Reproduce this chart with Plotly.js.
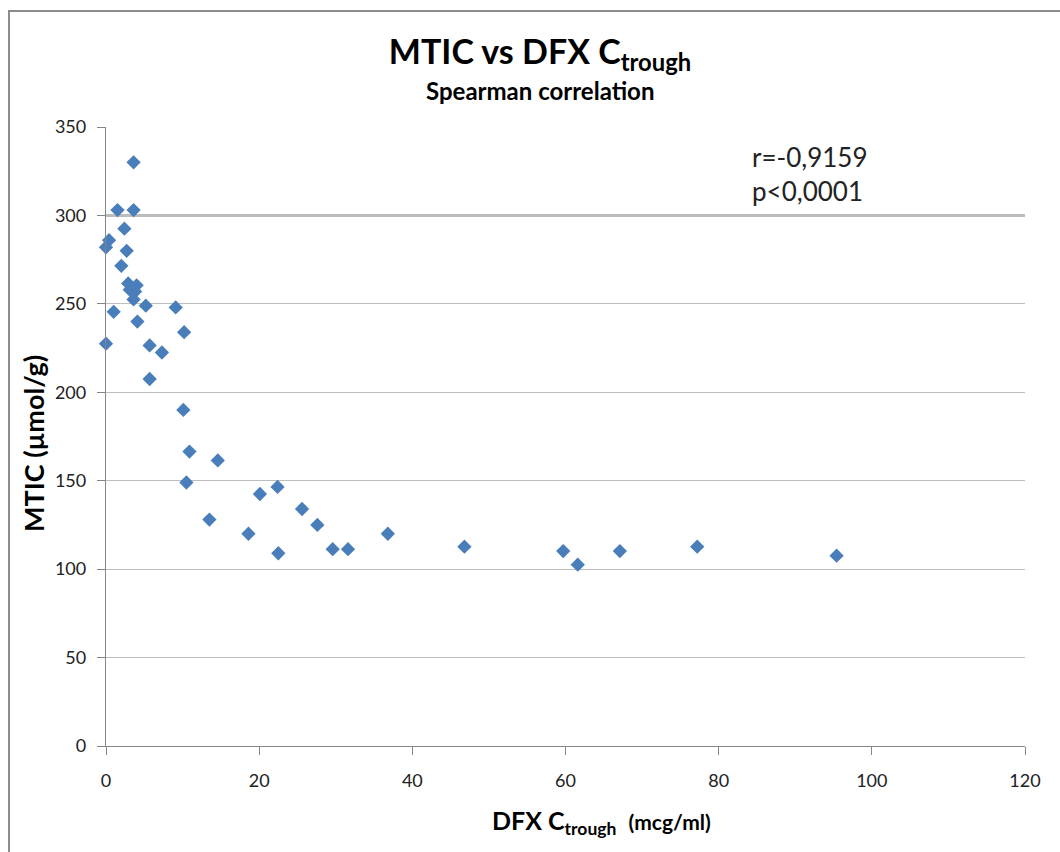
<!DOCTYPE html>
<html>
<head>
<meta charset="utf-8">
<script src="https://cdn.plot.ly/plotly-3.0.1.min.js"></script>
<style>
  html, body { margin: 0; padding: 0; background: #ffffff; }
  #wrap { position: relative; width: 1060px; height: 852px; overflow: hidden; }
  #chart { position: absolute; left: 0; top: 0; width: 1060px; height: 852px; }
  #frame { position: absolute; left: 8px; top: 10px; width: 1100px; height: 900px;
           border-top: 2px solid #8c8c8c; border-left: 2px solid #8c8c8c;
           pointer-events: none; z-index: 5; }
</style>
</head>
<body>
<div id="wrap">
  <div id="chart"></div>
  <div id="frame"></div>
</div>
<script>
// DFX C-trough (mcg/ml)
const dfxCtrough = [
  3.6, 1.5, 3.6, 2.4, 0.4, 0.0, 2.7, 2.0, 2.9, 4.0,
  3.1, 3.8, 3.6, 5.2, 9.1, 1.0, 4.1, 10.2, 0.0, 5.7,
  7.3, 5.7, 10.1, 10.9, 14.6, 10.5, 22.4, 20.1, 25.6, 13.5,
  27.6, 18.6, 36.8, 29.6, 31.6, 22.5, 46.8, 59.7, 61.6, 67.1,
  77.2, 95.4
];
// MTIC (µmol/g)
const mtic = [
  330, 303, 303, 292.5, 286, 282, 280, 271.5, 261.5, 260.5,
  258, 257, 252.5, 249, 248, 245.5, 240, 234, 227.5, 226.5,
  222.5, 207.5, 190, 166.5, 161.5, 149, 146.5, 142.5, 134, 128,
  125, 120, 120, 111.3, 111.3, 109, 112.7, 110.2, 102.5, 110.2,
  112.7, 107.6
];
const xTicks = [0, 20, 40, 60, 80, 100, 120];
const yTicks = [0, 50, 100, 150, 200, 250, 300, 350];
const highlightedGrid = 300;

const chartTitle = "MTIC vs DFX C<sub>trough</sub>";
const chartSubtitle = "Spearman correlation";
const xTitle = "DFX C<sub>trough</sub>  <span style='font-size:21px'>(mcg/ml)</span>";
const yTitle = "MTIC (\u00b5mol/g)";
const statsText = "r=-0,9159<br>p<0,0001";

const FONT = "Lato, 'Open Sans', 'Liberation Sans', sans-serif";

const trace = {
  type: "scatter",
  mode: "markers",
  x: dfxCtrough,
  y: mtic,
  cliponaxis: false,
  marker: { symbol: "diamond", size: 11, color: "#4a7ebb", line: { width: 0 } },
  hoverinfo: "x+y",
  showlegend: false
};

const layout = {
  width: 1060,
  height: 852,
  paper_bgcolor: "#ffffff",
  plot_bgcolor: "#ffffff",
  margin: { l: 106, r: 35, t: 127, b: 106, pad: 0 },
  font: { family: FONT, color: "#222222" },
  title: {
    text: chartTitle,
    font: { family: FONT, size: 34, color: "#000000", weight: "bold" },
    xref: "container", x: 540 / 1060, xanchor: "center",
    yref: "container", y: 1 - 52 / 852, yanchor: "middle"
  },
  xaxis: {
    range: [0, 120],
    tickvals: xTicks,
    ticktext: xTicks.map(String),
    showgrid: false,
    zeroline: false,
    showline: true,
    linecolor: "#868686",
    linewidth: 1.3,
    ticks: "outside",
    ticklen: 8,
    tickwidth: 1.3,
    tickcolor: "#868686",
    ticklabelstandoff: 10,
    tickfont: { family: FONT, size: 18, color: "#222222" },
    fixedrange: true
  },
  yaxis: {
    range: [0, 350],
    tickvals: yTicks,
    ticktext: yTicks.map(String),
    showgrid: true,
    gridcolor: "#bdbdbd",
    gridwidth: 1.3,
    zeroline: false,
    showline: true,
    linecolor: "#868686",
    linewidth: 1.3,
    ticks: "outside",
    ticklen: 8,
    tickwidth: 1.3,
    tickcolor: "#868686",
    ticklabelstandoff: 7,
    tickfont: { family: FONT, size: 18, color: "#222222" },
    fixedrange: true
  },
  shapes: [{
    type: "line", xref: "paper", x0: 0, x1: 1,
    yref: "y", y0: highlightedGrid, y1: highlightedGrid,
    line: { color: "#7a7a7a", width: 2 }, layer: "below"
  }],
  annotations: [
    {
      text: chartSubtitle, showarrow: false,
      xref: "paper", x: (540 - 106) / 919, xanchor: "center",
      yref: "paper", y: 1 + (127 - 90) / 619, yanchor: "middle",
      font: { family: FONT, size: 24, color: "#000000", weight: "bold" }
    },
    {
      text: statsText, showarrow: false, align: "left",
      xref: "paper", x: (750 - 106) / 919, xanchor: "left",
      yref: "paper", y: 1 - (173.5 - 127) / 619, yanchor: "middle",
      font: { family: FONT, size: 26, color: "#222222" }
    },
    {
      text: xTitle, showarrow: false,
      xref: "paper", x: (601 - 106) / 919, xanchor: "center",
      yref: "paper", y: -(822 - 746) / 619, yanchor: "middle",
      font: { family: FONT, size: 25, color: "#000000", weight: "bold" }
    },
    {
      text: yTitle, showarrow: false, textangle: -90,
      xref: "paper", x: (33 - 106) / 919, xanchor: "center",
      yref: "paper", y: 1 - (444 - 127) / 619, yanchor: "middle",
      font: { family: FONT, size: 27, color: "#000000", weight: "bold" }
    }
  ]
};

Plotly.newPlot("chart", [trace], layout, { displayModeBar: false, staticPlot: false });
</script>
</body>
</html>
